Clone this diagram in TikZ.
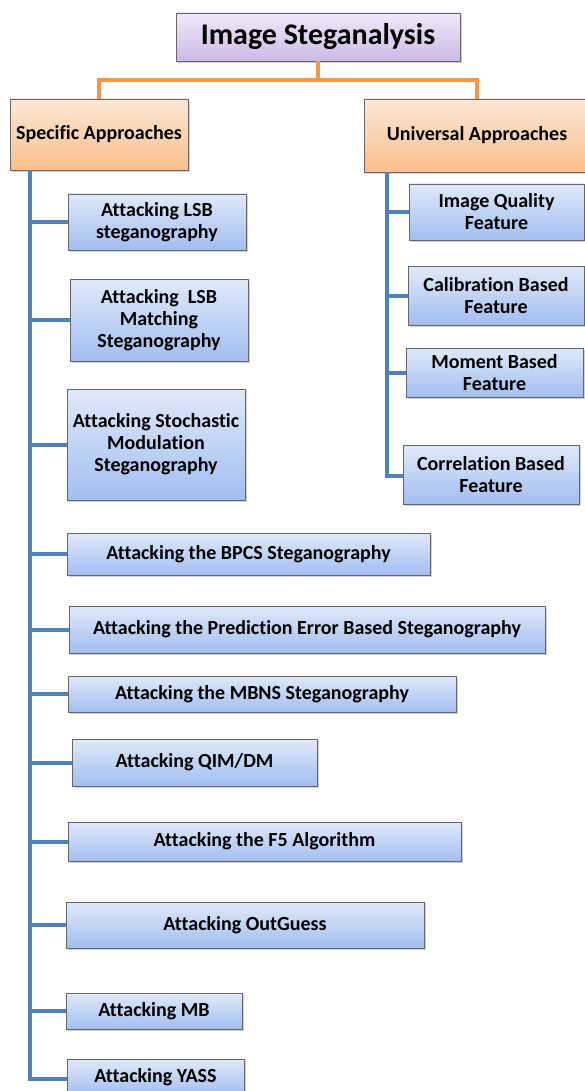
\documentclass[tikz,border=0pt]{standalone}
\usepackage{fontspec}
\setmainfont{Carlito}[Ligatures=NoCommon]
\usetikzlibrary{shadows}
\definecolor{leaftop}{RGB}{224,233,250}
\definecolor{leafbottom}{RGB}{162,190,240}
\definecolor{apptop}{RGB}{253,232,214}
\definecolor{appbottom}{RGB}{249,190,140}
\definecolor{roottop}{RGB}{240,233,249}
\definecolor{rootbottom}{RGB}{204,185,230}
\definecolor{linkblue}{RGB}{79,129,189}
\definecolor{linkorange}{RGB}{247,150,70}

\begin{document}
\begin{tikzpicture}[x=1pt,y=-1pt,
    box/.style ={draw=black!60, inner sep=0pt, align=center, font=\bfseries,
      drop shadow={shadow xshift=1.5pt, shadow yshift=-2pt, fill=black!35}},
    leaf/.style ={box, top color=leaftop, bottom color=leafbottom,
      font=\bfseries\fontsize{20}{22}\selectfont},
    approach/.style ={box, top color=apptop, bottom color=appbottom,
      font=\bfseries\fontsize{20}{22}\selectfont},
    rootbox/.style ={box, top color=roottop, bottom color=rootbottom,
      font=\bfseries\fontsize{30}{32}\selectfont},
    bluelink/.style ={line width=4pt, draw=linkblue},
    orangelink/.style ={line width=4pt, draw=linkorange}]
   \useasboundingbox (0,0) rectangle (585,1091);
   % top levels
   \node[rootbox, minimum width=284pt, minimum height=48pt] (root) at (318,37) {Image Steganalysis};
   \node[approach, minimum width=178pt, minimum height=71pt] (spec) at (99,134.5) {Specific Approaches};
   \node[approach, minimum width=226pt, minimum height=73pt] (univ) at (477,135.5) {Universal Approaches};
   \coordinate (split) at (318,80);
   % specific approaches
   \node[leaf, minimum width=178pt, minimum height=56pt] (lsb) at (157,222) {Attacking LSB\\steganography};
   \node[leaf, minimum width=178pt, minimum height=82pt] (lsbm) at (159,320) {Attacking~ LSB\\Matching\\Steganography};
   \node[leaf, minimum width=178pt, minimum height=111pt] (stoch) at (156,444.5) {Attacking Stochastic\\Modulation\\Steganography};
   \node[leaf, minimum width=363pt, minimum height=42pt] (bpcs) at (248.5,554) {Attacking the BPCS Steganography};
   \node[leaf, minimum width=476pt, minimum height=47pt] (pred) at (307,629.5) {Attacking the Prediction Error Based Steganography};
   \node[leaf, minimum width=388pt, minimum height=36pt] (mbns) at (262,694) {Attacking the MBNS Steganography};
   \node[leaf, minimum width=245pt, minimum height=47pt] (qim) at (194.5,762.5) {Attacking QIM/DM};
   \node[leaf, minimum width=393pt, minimum height=39pt] (ffive) at (264.5,841.5) {Attacking the F5 Algorithm};
   \node[leaf, minimum width=358pt, minimum height=46pt] (outg) at (245,925) {Attacking OutGuess};
   \node[leaf, minimum width=176pt, minimum height=36pt] (mb) at (154,1011) {Attacking MB};
   \node[leaf, minimum width=177pt, minimum height=36pt] (yass) at (155.5,1077) {Attacking YASS};
   % universal approaches
   \node[leaf, minimum width=175pt, minimum height=56pt] (iqf) at (496.5,212) {Image Quality\\Feature};
   \node[leaf, minimum width=176pt, minimum height=59pt] (cbf) at (496,295.5) {Calibration Based\\Feature};
   \node[leaf, minimum width=177pt, minimum height=49pt] (mbf) at (494.5,372.5) {Moment Based\\Feature};
   \node[leaf, minimum width=176pt, minimum height=59pt] (crf) at (491,474.5) {Correlation Based\\Feature};
   % connectors
   \draw[orangelink] (root.south) -- (split) -| (spec.north);
   \draw[orangelink] (split) -| (univ.north);
   \draw[bluelink] ([xshift=20pt]spec.south west) |- (lsb.west);
   \draw[bluelink] ([xshift=20pt]spec.south west) |- (lsbm.west);
   \draw[bluelink] ([xshift=20pt]spec.south west) |- (stoch.west);
   \draw[bluelink] ([xshift=20pt]spec.south west) |- (bpcs.west);
   \draw[bluelink] ([xshift=20pt]spec.south west) |- (pred.west);
   \draw[bluelink] ([xshift=20pt]spec.south west) |- (mbns.west);
   \draw[bluelink] ([xshift=20pt]spec.south west) |- (qim.west);
   \draw[bluelink] ([xshift=20pt]spec.south west) |- (ffive.west);
   \draw[bluelink] ([xshift=20pt]spec.south west) |- (outg.west);
   \draw[bluelink] ([xshift=20pt]spec.south west) |- (mb.west);
   \draw[bluelink] ([xshift=20pt]spec.south west) |- ([yshift=-2pt]yass.west);
   \draw[bluelink] ([xshift=23pt]univ.south west) |- (iqf.west);
   \draw[bluelink] ([xshift=23pt]univ.south west) |- (cbf.west);
   \draw[bluelink] ([xshift=23pt]univ.south west) |- (mbf.west);
   \draw[bluelink] ([xshift=23pt]univ.south west) |- ([yshift=-1pt]crf.west);
 \end{tikzpicture}
\end{document}
